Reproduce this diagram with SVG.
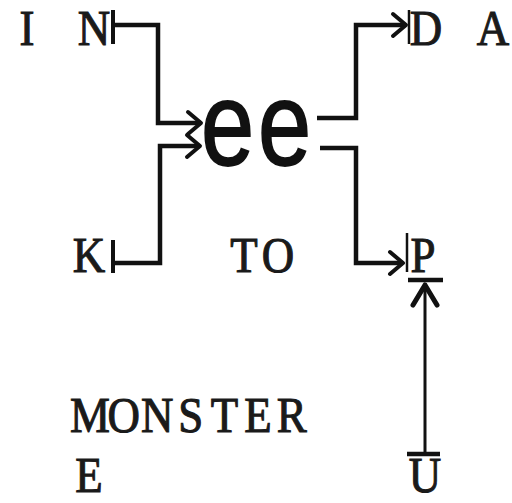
<svg xmlns="http://www.w3.org/2000/svg" width="512" height="503" viewBox="0 0 512 503">
<style>
.t{font-family:"Liberation Serif","Times New Roman",serif;font-size:51px;fill:#1a1a1a;stroke:#1a1a1a;stroke-width:1.1px;text-anchor:middle}
.big{font-family:"Liberation Sans",Arial,sans-serif;font-size:118px;fill:#111;stroke:#111;stroke-width:1.8px}
.c{fill:none;stroke:#111;stroke-width:4.5;stroke-linejoin:miter;stroke-linecap:butt}
.tick{fill:none;stroke:#111;stroke-width:4}
.thin{fill:none;stroke:#111;stroke-width:2.5}
</style>
<defs>
<marker id="chev" markerUnits="userSpaceOnUse" markerWidth="30" markerHeight="30" viewBox="-15 -15 30 30" refX="0" refY="0" orient="auto" overflow="visible">
<path d="M-13,-11 L0,0 L-13,11" fill="none" stroke="#111" stroke-width="4" stroke-linecap="round" stroke-linejoin="round"/>
</marker>
</defs>
<rect width="512" height="503" fill="#fff"/>
<g id="node-IN"><text class="t" transform="scale(0.88,1)" x="30.7 106.8" y="45">IN</text></g>
<g id="node-DA"><text class="t" transform="scale(0.88,1)" x="484.1 560.2" y="45">DA</text></g>
<g id="node-K"><text class="t" transform="scale(0.88,1)" x="101.1" y="272">K</text></g>
<g id="node-TO"><text class="t" transform="scale(0.88,1)" x="277.3 315.9" y="272">TO</text></g>
<g id="node-P"><text class="t" transform="scale(0.88,1)" x="480.7" y="272">P</text></g>
<g id="node-MONSTER">
<text class="t" transform="scale(0.88,1)" x="102.3 140.5 178.6 216.8 255 293.2 331.4" y="432">MONSTER</text>
<text class="t" transform="scale(0.88,1)" x="101.1" y="492">E</text>
</g>
<g id="node-U"><text class="t" transform="scale(0.88,1)" x="483" y="492">U</text></g>
<g id="node-ee">
<text class="big" transform="translate(201,165) scale(0.81,1)">e</text>
<text class="big" transform="translate(258,165) scale(0.81,1)">e</text>
</g>
<g id="connectors">
<line class="tick" x1="113" y1="10" x2="113" y2="44"/>
<path class="c" d="M113,25 H158 V123 H201" marker-end="url(#chev)"/>
<line class="tick" x1="113" y1="240" x2="113" y2="273"/>
<path class="c" d="M113,263 H160 V146 H200" marker-end="url(#chev)"/>
<path class="c" d="M317,118 H356 V25 H406" marker-end="url(#chev)"/>
<line class="thin" x1="409" y1="10" x2="409" y2="44"/>
<path class="c" d="M320,148 H356 V263 H403" marker-end="url(#chev)"/>
<line class="thin" x1="407" y1="233" x2="407" y2="272"/>
<line class="c" x1="408" y1="280" x2="443" y2="280"/>
<path d="M413,305 L425,285 L437,305" fill="none" stroke="#111" stroke-width="5" stroke-linecap="round" stroke-linejoin="round"/>
<line x1="425" y1="285" x2="425" y2="454" stroke="#111" stroke-width="3"/>
<line class="c" x1="407" y1="454" x2="440" y2="454"/>
</g>
</svg>
